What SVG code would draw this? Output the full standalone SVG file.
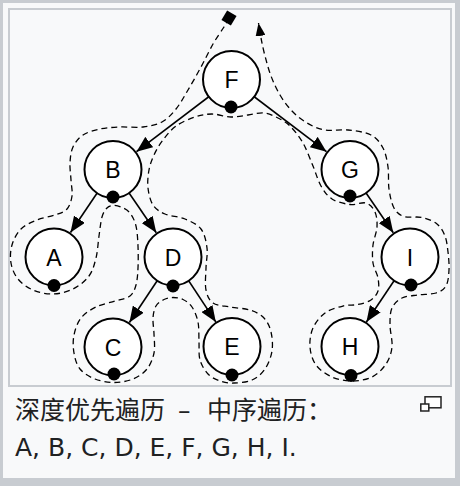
<svg xmlns="http://www.w3.org/2000/svg" width="460" height="486" viewBox="0 0 460 486">
<defs>
<style>
.node circle{fill:#fff;stroke:#000;stroke-width:2}
.node .dot{fill:#000;stroke:none}
.node text{font-family:"Liberation Sans",Arial,sans-serif;font-size:23px;text-anchor:middle;fill:#000}
.edge{stroke:#000;stroke-width:1.6;fill:none;marker-end:url(#arr)}
.contour{fill:none;stroke:#000;stroke-width:1.3;stroke-dasharray:6 4;marker-end:url(#arrs)}
.cap{font-family:"DejaVu Sans","Noto Sans CJK SC",sans-serif;font-size:25px;fill:#202122}
.cjk{font-family:"Noto Sans CJK SC",sans-serif}
</style>
<marker id="arr" markerUnits="userSpaceOnUse" markerWidth="16" markerHeight="13" viewBox="0 0 16 13" refX="16" refY="6.5" orient="auto"><path d="M0,0 L16,6.5 L0,13 z" fill="#000"/></marker>
<marker id="arrs" markerUnits="userSpaceOnUse" markerWidth="13" markerHeight="10" viewBox="0 0 13 10" refX="13" refY="5" orient="auto"><path d="M0,0 L13,5 L0,10 z" fill="#000"/></marker>
</defs>
<rect width="460" height="486" fill="#c8ccd1"/>
<rect x="3" y="3" width="452" height="475" fill="#f8f9fa"/>
<rect x="9" y="9" width="442" height="377" fill="#f8f9fa" stroke="#c8ccd1" stroke-width="2"/>
<g id="connectors">
<line class="edge" x1="231.5" y1="79.5" x2="136.5" y2="151.7"/>
<line class="edge" x1="231.5" y1="79.5" x2="326.5" y2="151.7"/>
<line class="edge" x1="113" y1="169.5" x2="70.5" y2="232.5"/>
<line class="edge" x1="113" y1="169.5" x2="156.3" y2="232.7"/>
<line class="edge" x1="173" y1="257" x2="129.4" y2="322.5"/>
<line class="edge" x1="173" y1="257" x2="215.8" y2="321.9"/>
<line class="edge" x1="350" y1="169.5" x2="393.3" y2="232.7"/>
<line class="edge" x1="410" y1="257" x2="366.4" y2="322"/>
<path class="contour" d="M229,18 C227.3,21 226.7,22.7 224,27 S216.8,37.3 213,44 S205.2,59.3 201,67 S192.2,83 188,90 S180.3,103.7 176,109 S167.5,119 162,122 S150,126.2 143,127 S127.2,126.7 120,127 S106.2,127.7 100,129 S87.5,132 83,135 S75.2,142.3 73,147 S70.3,157.5 70,163 S70.7,174.5 71,180 S72.7,191.2 72,196 S69.8,205.8 67,209 S60,213.2 55,215 S42.7,217.7 37,220 S25.2,224.8 21,229 S13.7,239.3 12,245 S10,257.3 11,263 S14.3,274.5 18,279 S27.2,287.5 33,290 S46.3,294.2 53,294 S67,292 73,289 S85.2,281.2 89,276 S94.3,264.7 96,258 S98,242.8 99,236 S100.7,221.7 102,217 S105.2,209.9 107,208 S110.7,205.7 113,205.5 S118.2,205.8 121,207 S127.5,209.8 130,213 S134.7,220.5 136,226 S137.7,239 138,246 S138.3,261.5 138,268 S137.3,280.3 136,285 S133.5,293.3 130,296 S120.7,299.2 115,301 S101.7,304.2 96,307 S84.7,313.3 81,318 S75.2,329.2 74,335 S73,347.3 74,353 S76.5,364.7 80,369 S89.3,376.8 95,379 S107.7,382.5 114,382.5 S127.5,381.3 133,379 S143.5,373.3 147,369 S152.8,358.8 154,353 S154.2,339.8 154,334 S152.7,322.7 153,318 S154.2,309.1 156,306 S161.2,300.9 164,299.5 S169.8,297.5 173,297.5 S179.8,297.9 183,299.5 S189.5,303.3 192,307 S196.8,316.2 198,322 S198.7,335.7 199,342 S198.5,354.7 200,360 S204.7,370.5 208,374 S215.7,379.5 220,381 S228.7,383.2 234,383 S246.8,382.3 252,380 S261.7,373.8 265,369 S271,357.2 272,351 S272.3,337.5 271,332 S267.5,321.7 264,318 S255.7,311.8 250,310 S236.2,308.2 230,307 S217,305.8 213,303 S207.2,295.8 206,290 S205.8,275 206,268 S207.8,254.5 207,248 S204.7,233.8 201,229 S191,221.5 185,219 S170.3,216.3 165,214 S155.8,209.3 153,205 S148.7,193.8 148,188 S148,175.5 149,170 S151.7,160 154,155 S159.3,144.8 163,140 S170.7,129.8 176,126 S189,119 195,117 S206,114 212,114 S225,116.8 231,117 S242.5,115.7 248,115 S259,112.5 264,113 S273.7,115.8 278,118 S285.8,121.8 290,126 S299.2,136.3 303,143 S310,158.8 313,166 S317.8,180.5 321,186 S327.2,195.9 332,199 S344.3,203.8 350,204.5 S361.8,201.8 366,203 S373.2,208 375,212 S377.3,221.5 377,227 S373.7,239 373,245 S372.2,257.5 373,263 S377.2,273.3 378,278 S379.2,287.3 378,291 S374.3,297.8 371,300 S362.7,303.5 358,304.5 S348.5,304.6 343,306 S330,309.3 325,313 S315.5,322.3 313,328 S309.5,340.8 310,347 S312.3,360 316,365 S326,374.3 332,377 S345.3,381 352,381 S366.3,379.8 372,377 S382.7,369 386,364 S391.3,353.5 392,347 S390,331.5 390,325 S390,312.5 392,308 S397.7,300.2 402,298 S412.3,295.8 418,295 S431.3,294.5 436,293 S443.8,289.8 446,286 S448.7,275.7 449,270 S448.7,257.7 448,252 S446.8,240.7 445,236 S440.8,227.1 437,224 S427.5,218.8 422,217.5 S408.7,218.1 404,216.5 S396.5,212.6 394,208 S390,195.8 389,189 S389,173.8 388,167 S385.8,153.3 383,148 S376.8,138 371,135 S355.7,130.8 348,130 S331.8,131.2 325,130 S312.5,126.2 307,123 S296.5,115.7 292,111 S283.5,100.8 280,95 S273.5,82.5 271,76 S266.7,62.3 265,56 S262.1,43.5 261,38 S259.3,28 258.5,23"/>
<rect x="-5.5" y="-5.5" width="11" height="11" fill="#000" transform="translate(229,18) rotate(31)"/>
</g>
<g id="nodes">
<g id="node-F" class="node"><circle cx="231.5" cy="79.5" r="28.5"/><text x="231.5" y="88">F</text><circle class="dot" cx="231" cy="107" r="6.5"/></g>
<g id="node-B" class="node"><circle cx="113" cy="169.5" r="28.5"/><text x="113" y="178">B</text><circle class="dot" cx="113" cy="197" r="6.5"/></g>
<g id="node-G" class="node"><circle cx="350" cy="169.5" r="28.5"/><text x="350" y="178">G</text><circle class="dot" cx="350" cy="196" r="6.5"/></g>
<g id="node-A" class="node"><circle cx="54" cy="257" r="28.5"/><text x="54" y="265.5">A</text><circle class="dot" cx="54" cy="285.5" r="6.5"/></g>
<g id="node-D" class="node"><circle cx="173" cy="257" r="28.5"/><text x="173" y="265.5">D</text><circle class="dot" cx="173" cy="286" r="6.5"/></g>
<g id="node-I" class="node"><circle cx="410" cy="257" r="28.5"/><text x="410" y="265.5">I</text><circle class="dot" cx="411" cy="285" r="6.5"/></g>
<g id="node-C" class="node"><circle cx="113" cy="347" r="28.5"/><text x="113" y="355.5">C</text><circle class="dot" cx="114" cy="374" r="6.5"/></g>
<g id="node-E" class="node"><circle cx="232" cy="346.5" r="28.5"/><text x="232" y="355">E</text><circle class="dot" cx="232" cy="375" r="6.5"/></g>
<g id="node-H" class="node"><circle cx="350" cy="346.5" r="28.5"/><text x="350" y="355">H</text><circle class="dot" cx="351" cy="375.5" r="6.5"/></g>
</g>
<g id="caption">
<text class="cap" y="419"><tspan class="cjk" x="15">深度优先遍历 </tspan><tspan x="178">– </tspan><tspan class="cjk" x="207">中序遍历：</tspan></text>
<text class="cap" x="15" y="456">A, B, C, D, E, F, G, H, I.</text>
<rect x="425" y="396.8" width="16" height="11" fill="#fff" stroke="#222" stroke-width="1.5"/>
<rect x="420.8" y="404" width="8" height="7" fill="#fff" stroke="#222" stroke-width="1.5"/>
</g>
</svg>
